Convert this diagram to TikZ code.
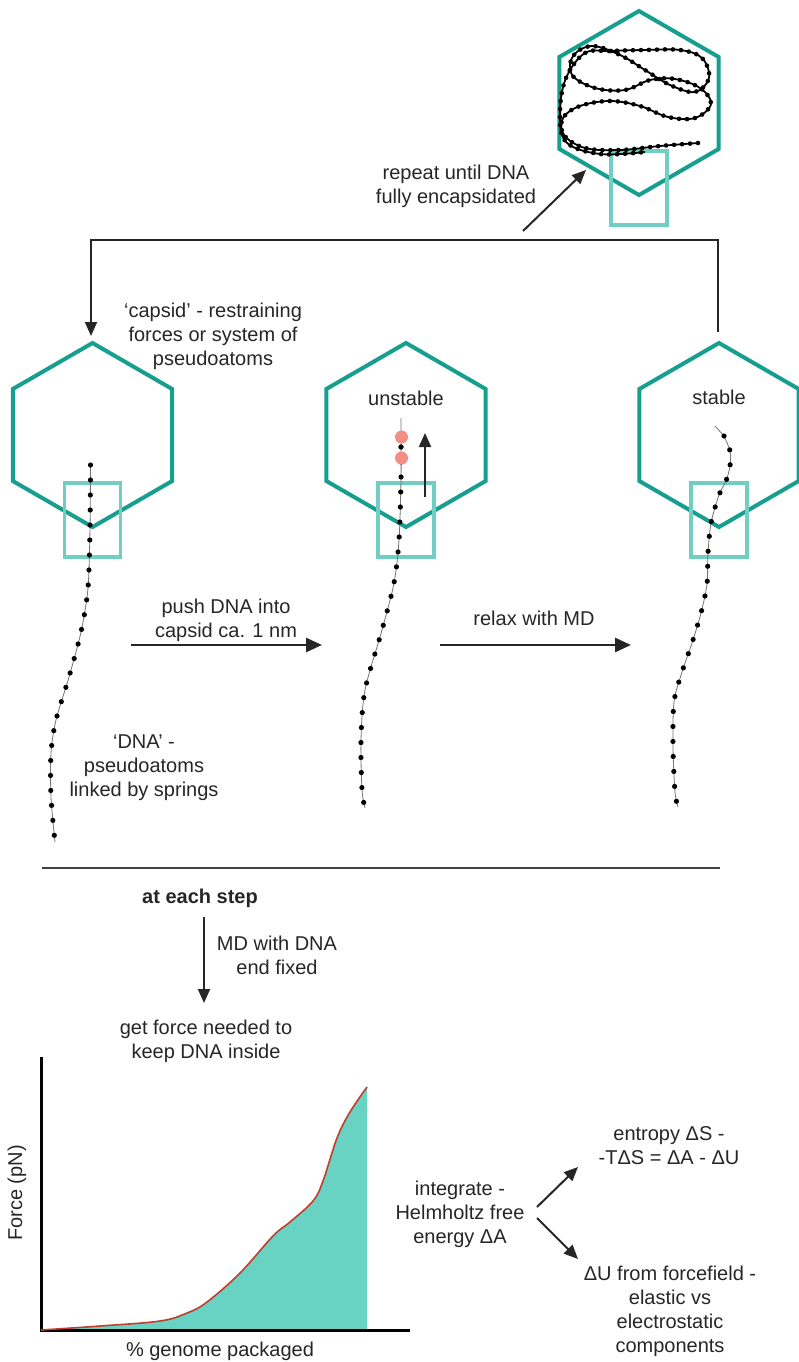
\documentclass[tikz,border=0pt]{standalone}
\usepackage{fontspec}
\setmainfont{Liberation Sans}
\usetikzlibrary{arrows.meta}

\definecolor{capsidteal}{RGB}{22,158,142}
\definecolor{portalteal}{RGB}{112,206,195}
\definecolor{areafill}{RGB}{104,211,194}
\definecolor{curvered}{RGB}{192,62,46}
\definecolor{beadpink}{RGB}{243,141,133}
\definecolor{txtgray}{RGB}{38,38,38}

\tikzset{
  capsidline/.style={draw=capsidteal, line width=4pt, line join=miter},
  portalline/.style={draw=portalteal, line width=3.5pt},
  flow/.style={draw=black!85, line width=2.8pt, -{Triangle[length=16pt,width=14pt]}},
  thinflow/.style={draw=black!85, line width=2pt, -{Triangle[length=14pt,width=12pt]}},
  txt/.style={font=\fontsize{20}{24}\selectfont, text=txtgray, align=center, inner sep=0pt},
  spring/.style={draw=black!55, line width=0.8pt},
  beads/.style={draw=black, line width=5.2pt, line cap=round, dash pattern=on 0pt off 15pt},
  tangle/.style={draw=black, line width=1.8pt},
  tanglebeads/.style={draw=black, line width=4.6pt, line cap=round, dash pattern=on 0pt off 8pt},
}

% hexagonal capsid with its portal box, centred on a named coordinate
\def\R{92}
\newcommand{\drawcapsid}[1]{%
  \draw[capsidline] (#1) ++(0,-\R) -- ++(0.866*\R,0.5*\R) -- ++(0,\R)
    -- ++(-0.866*\R,0.5*\R) -- ++(-0.866*\R,-0.5*\R) -- ++(0,-\R) -- cycle;
  \draw[portalline] (#1) ++(-28,48) rectangle ++(56,74);
}

% DNA paths
\def\tanglepath{(698,143) (660,146) (620,150) (585,148) (564,135) (563,118) (580,106)
    (610,101) (640,106) (668,117) (695,118) (711,104) (700,88) (675,79)
    (650,80) (625,90) (595,88) (572,75) (573,56) (592,46) (620,55) (645,70)
    (670,85) (695,92) (709,78) (702,58) (680,50) (645,50) (610,51) (585,53)
    (566,78) (560,112) (566,142) (600,154) (645,152)}
\def\strandL{(90.5,465) (90,528) (88,588) (81,632) (69,677) (56,720) (51,753) (51,797) (55,842)}
\def\strandM{(401,447) (401,480) (399,540) (394,583) (382,630) (365,690) (361,740) (362,790) (365,808)}
\def\strandR{(724,436) (730,451) (730,466) (726,481) (719,495) (711,523) (708,553)
    (707,584) (701,613) (692,643) (682,672) (674,702) (673,747) (675,792) (678,807)}
\def\forcecurve{(41,1330) (100,1326) (160,1321) (187,1313) (207,1302) (240,1273) (273,1236)
    (290,1222) (313,1201) (323,1181) (337,1138) (350,1112) (367,1087)}

\begin{document}
\begin{tikzpicture}[x=1pt,y=-1pt]

  \useasboundingbox (0,0) rectangle (798,1362);

  % Capsid centres
  \coordinate (hexTop) at (639,103);
  \coordinate (hexL) at (92.5,435);
  \coordinate (hexM) at (406,435);
  \coordinate (hexR) at (719,435);

  % Draw the four capsids
  \drawcapsid{hexTop}
  \drawcapsid{hexL}
  \drawcapsid{hexM}
  \drawcapsid{hexR}

  % Fully packed DNA in the top capsid
  \draw[tangle] plot[smooth, tension=0.6] coordinates {\tanglepath};
  \draw[tanglebeads] plot[smooth, tension=0.6] coordinates {\tanglepath};

  % DNA strands of pseudoatoms linked by springs
  \draw[spring] plot[smooth] coordinates {\strandL};
  \draw[beads] plot[smooth] coordinates {\strandL};
  \draw[spring] (401,418) -- plot[smooth] coordinates {\strandM};
  \draw[beads] plot[smooth] coordinates {\strandM};
  \draw[spring] (715,426) -- plot[smooth] coordinates {\strandR};
  \draw[beads] plot[smooth] coordinates {\strandR};

  % Pseudoatoms pushed too far
  \fill[beadpink] (401.5,437) circle (6.5pt);
  \fill[beadpink] (401.5,458) circle (6.5pt);
  \fill[black] (401,447) circle (2.4pt);

  % Outward force in the unstable capsid
  \coordinate (pullS) at (425,497);
  \coordinate (pullE) at (425,433);
  \draw[thinflow] (pullS) -- (pullE);

  % Labels of the capsid row
  \node[txt] (capsidlab) at (213,336) {`capsid' - restraining\\forces or system of\\pseudoatoms};
  \node[txt] (unstablelab) at (406,398) {unstable};
  \node[txt] (stablelab) at (719,397) {stable};
  \node[txt] (dnalab) at (144,768) {`DNA' -\\pseudoatoms\\linked by springs};

  % Steps between the capsids
  \coordinate (pushS) at (131,645);
  \coordinate (pushE) at (322,645);
  \coordinate (relaxS) at (440,645);
  \coordinate (relaxE) at (631,645);
  \draw[flow] (pushS) -- (pushE);
  \draw[flow] (relaxS) -- (relaxE);
  \node[txt] (pushlab) at (226,620) {push DNA into\\capsid ca. 1 nm};
  \node[txt] (relaxlab) at (534,618) {relax with MD};

  % Loop back to the first capsid
  \coordinate (backS) at (718,332);
  \coordinate (backR) at (718,240);
  \coordinate (backL) at (91,240);
  \coordinate (backE) at (91,336);
  \draw[thinflow, line width=1.8pt] (backS) -- (backR) -- (backL) -- (backE);

  % Repeat until the capsid is full
  \coordinate (repS) at (523,231);
  \coordinate (repE) at (586,170);
  \draw[thinflow] (repS) -- (repE);
  \node[txt] (replab) at (456,186) {repeat until DNA\\fully encapsidated};

  % Separator
  \coordinate (sepL) at (42,868);
  \coordinate (sepR) at (720,868);
  \draw[draw=black!75, line width=2.5pt] (sepL) -- (sepR);

  % Force measurement at each step
  \node[txt, font=\fontsize{20}{24}\selectfont\bfseries] (steplab) at (200,898) {at each step};
  \coordinate (mdS) at (204,917);
  \coordinate (mdE) at (204,1003);
  \draw[thinflow] (mdS) -- (mdE);
  \node[txt] (mdlab) at (277,955) {MD with DNA\\end fixed};
  \node[txt] (forcelab) at (206,1041) {get force needed to\\keep DNA inside};

  % Force curve
  \coordinate (orig) at (41,1330);
  \coordinate (ytop) at (41,1057);
  \coordinate (xend) at (410,1330);
  \coordinate (fend) at (367,1330);
  \fill[areafill] (orig) -- plot[smooth, tension=0.6] coordinates {\forcecurve} -- (fend) -- cycle;
  \draw[black, line width=3pt] (ytop) -- (orig) -- (xend);
  \draw[curvered, line width=1.6pt] plot[smooth, tension=0.6] coordinates {\forcecurve};
  \node[txt, rotate=90] (ylab) at (17,1193) {Force (pN)};
  \node[txt] (xlab) at (220,1351) {\% genome packaged};

  % Splitting the free energy
  \node[txt] (intlab) at (460,1214) {integrate -\\Helmholtz free\\energy ΔA};
  \node[txt] (entlab) at (669,1146) {entropy ΔS -\\-TΔS = ΔA - ΔU};
  \node[txt] (enlab) at (670,1311) {ΔU from forcefield -\\elastic vs\\electrostatic\\components};
  \coordinate (upS) at (537,1207);
  \coordinate (upE) at (578,1167);
  \coordinate (dnS) at (537,1218);
  \coordinate (dnE) at (578,1259);
  \draw[thinflow] (upS) -- (upE);
  \draw[thinflow] (dnS) -- (dnE);

\end{tikzpicture}
\end{document}
